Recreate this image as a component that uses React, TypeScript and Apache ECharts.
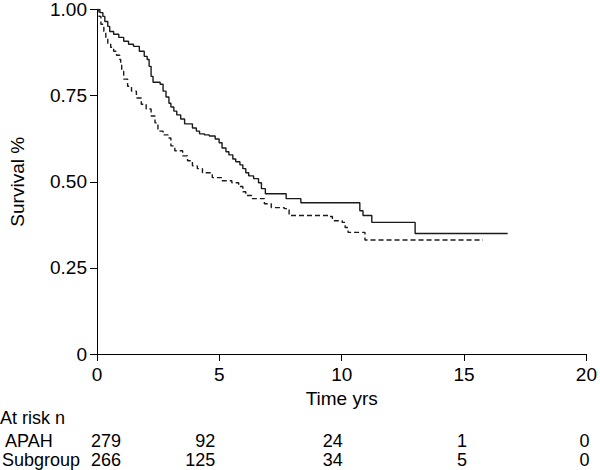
import React, { useEffect, useRef } from "react";
import * as echarts from "echarts";

// Kaplan-Meier estimates
const apahTimes = [0, 0.12, 0.24, 0.32, 0.44, 0.52, 0.68, 0.89, 1.09, 1.29, 1.49, 1.73, 1.93, 2.05, 2.13, 2.21, 2.29, 2.58, 2.7, 2.82, 2.94, 3.02, 3.14, 3.26, 3.42, 3.58, 3.9, 4.06, 4.19, 4.39, 4.59, 4.83, 4.99, 5.11, 5.27, 5.39, 5.55, 5.67, 5.84, 5.96, 6.08, 6.2, 6.4, 6.6, 6.72, 6.88, 7.73, 8.33, 10.74, 10.87, 11.23, 13.0, 16.78];
const apahSurv = [1.0, 0.991, 0.98, 0.965, 0.951, 0.936, 0.928, 0.919, 0.908, 0.899, 0.893, 0.879, 0.864, 0.855, 0.835, 0.806, 0.789, 0.783, 0.763, 0.746, 0.728, 0.717, 0.705, 0.694, 0.682, 0.668, 0.656, 0.647, 0.639, 0.636, 0.633, 0.624, 0.613, 0.598, 0.587, 0.578, 0.566, 0.558, 0.549, 0.538, 0.526, 0.517, 0.509, 0.497, 0.48, 0.465, 0.451, 0.439, 0.416, 0.402, 0.382, 0.35, 0.35];

const subTimes = [0, 0.08, 0.16, 0.28, 0.36, 0.44, 0.56, 0.68, 0.8, 0.93, 0.97, 1.01, 1.09, 1.25, 1.41, 1.61, 1.81, 2.01, 2.21, 2.37, 2.49, 2.7, 2.9, 3.02, 3.18, 3.5, 3.7, 3.9, 4.1, 4.31, 4.71, 5.11, 5.51, 5.79, 5.96, 6.08, 6.32, 6.84, 7.12, 7.65, 7.85, 9.46, 9.62, 10.02, 10.14, 10.26, 10.74, 10.95, 15.77];
const subSurv = [1.0, 0.98, 0.957, 0.936, 0.916, 0.902, 0.89, 0.879, 0.867, 0.855, 0.838, 0.821, 0.798, 0.777, 0.763, 0.743, 0.725, 0.711, 0.691, 0.671, 0.647, 0.636, 0.627, 0.604, 0.59, 0.575, 0.561, 0.546, 0.538, 0.526, 0.512, 0.503, 0.497, 0.486, 0.471, 0.46, 0.451, 0.436, 0.425, 0.422, 0.402, 0.399, 0.387, 0.382, 0.367, 0.353, 0.353, 0.331, 0.331];

const riskTimes = [0, 5, 10, 15, 20];
const riskApah = [279, 92, 24, 1, 0];
const riskSub = [266, 125, 34, 5, 0];
const riskGroups = ["APAH", "Subgroup"];

const FONT = "'Liberation Sans', Arial, Helvetica, sans-serif";
const FS = 19;
const TFS = 18;

export default function App() {
  const ref = useRef<HTMLDivElement>(null);
  useEffect(() => {
    if (!ref.current) return;
    const chart = echarts.init(ref.current, null, { renderer: "svg" });
    const axisCommon = {
      axisLine: { show: true, lineStyle: { color: "#000", width: 1 } },
      axisTick: { show: true, length: 7, lineStyle: { color: "#000", width: 1 } },
      splitLine: { show: false },
      nameTextStyle: { color: "#000", fontFamily: FONT, fontSize: FS },
    };
    chart.setOption({
      animation: false,
      backgroundColor: "#fff",
      grid: { left: 93, right: 10, top: 8, bottom: 116, containLabel: false },
      xAxis: {
        type: "value",
        min: 0,
        max: 20,
        interval: 5,
        name: "Time yrs",
        nameLocation: "middle",
        nameGap: 34,
        ...axisCommon,
        axisLabel: { color: "#000", fontFamily: FONT, fontSize: FS, margin: 11 },
      },
      yAxis: {
        type: "value",
        min: 0,
        max: 1,
        interval: 0.25,
        name: "Survival %",
        nameLocation: "middle",
        nameGap: 70,
        ...axisCommon,
        axisLabel: {
          color: "#000",
          fontFamily: FONT,
          fontSize: FS,
          margin: 10,
          formatter: (v: number) => (v === 0 ? "0" : v.toFixed(2)),
        },
      },
      series: [
        {
          type: "line",
          step: "end",
          symbol: "none",
          data: apahTimes.map((t, i) => [t, apahSurv[i]]),
          lineStyle: { color: "#1a1a1a", width: 1.4, type: "solid" },
        },
        {
          type: "line",
          step: "end",
          symbol: "none",
          data: subTimes.map((t, i) => [t, subSurv[i]]),
          lineStyle: { color: "#1a1a1a", width: 1.4, type: [5, 3] },
        },
      ],
    });
    const txt = (x: number, y: number, s: string, align: string) => ({
      type: "text",
      x,
      y,
      style: { text: s, fill: "#000", font: `${TFS}px ${FONT}`, align, verticalAlign: "middle" },
    });
    const g: any[] = [txt(0, 418, "At risk n", "left"), txt(5, 441, riskGroups[0], "left"), txt(2, 460, riskGroups[1], "left")];
    const colShift = [24, -4, 1, 3, 3];
    riskTimes.forEach((t, i) => {
      const px = chart.convertToPixel({ xAxisIndex: 0 }, t) as number;
      g.push(txt(px + colShift[i], 441, String(riskApah[i]), "right"));
      g.push(txt(px + colShift[i], 460, String(riskSub[i]), "right"));
    });
    chart.setOption({ graphic: g });
    return () => chart.dispose();
  }, []);
  return <div ref={ref} style={{ position: "fixed", left: 0, top: 0, width: 600, height: 470 }} />;
}
